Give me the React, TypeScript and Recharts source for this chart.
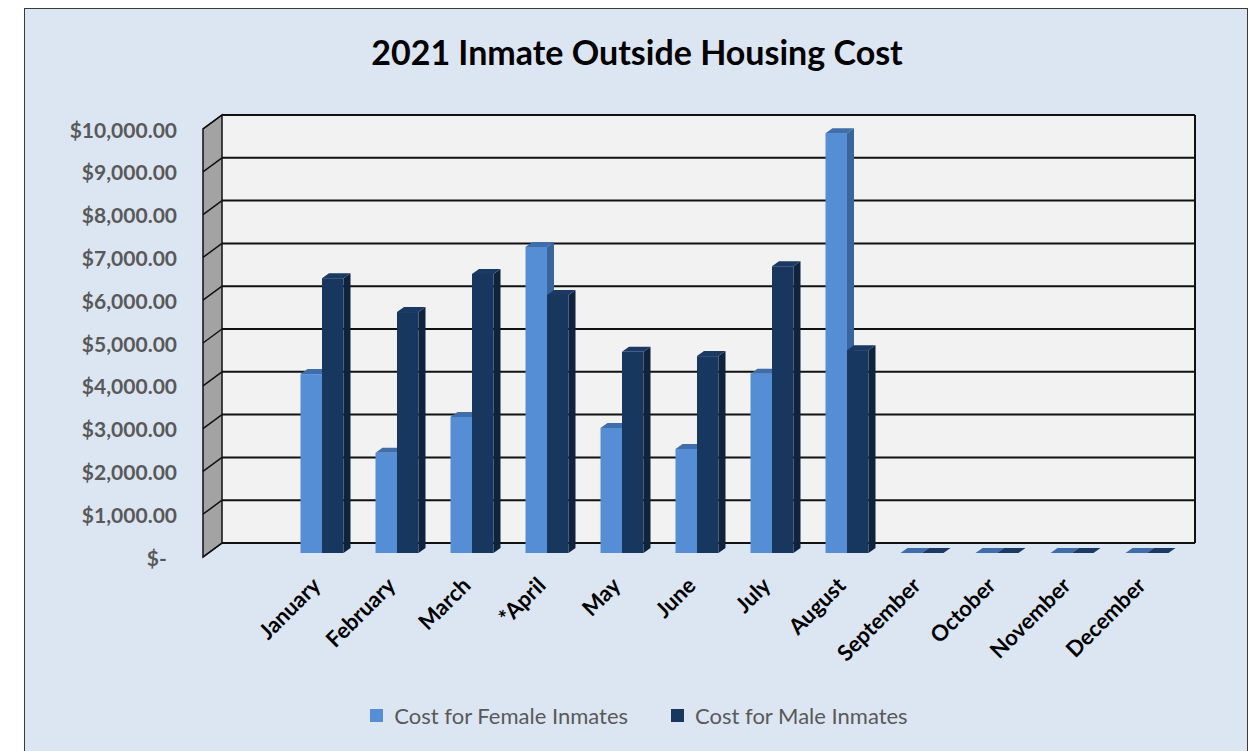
import { BarChart, Bar, XAxis, YAxis, CartesianGrid, Legend } from 'recharts'

const MONTHS = [
  'January',
  'February',
  'March',
  '*April',
  'May',
  'June',
  'July',
  'August',
  'September',
  'October',
  'November',
  'December',
]
const FEMALE_COST = [4180, 2340, 3180, 7150, 2920, 2430, 4190, 9810, 0, 0, 0, 0]
const MALE_COST = [6420, 5630, 6520, 6030, 4700, 4600, 6700, 4740, 0, 0, 0, 0]
const Y_TICKS = [0, 1000, 2000, 3000, 4000, 5000, 6000, 7000, 8000, 9000, 10000]
const SERIES_NAMES = ['Cost for Female Inmates', 'Cost for Male Inmates']

const data = MONTHS.map((month, i) => ({
  month,
  female: FEMALE_COST[i],
  male: MALE_COST[i],
}))

const FONT = 'Lato, "Open Sans", sans-serif'

// 3D offsets (front face sits a bit in front of the back wall)
const WALL_DX = 19
const WALL_DY = 14
const BAR_SHIFT = 10
const BAR_DX = 7
const BAR_DY = 5

const formatMoney = (v: number) =>
  v === 0
    ? '$-\u00a0\u00a0'
    : '$' + v.toLocaleString('en-US', { minimumFractionDigits: 2, maximumFractionDigits: 2 })

function make3DBar(front: string, top: string, side: string) {
  return (props: any) => {
    const { x, y, width, height } = props
    const h = Math.max(0, height || 0)
    const fy = y + BAR_SHIFT
    return (
      <g>
        <polygon
          points={`${x + width},${fy} ${x + width + BAR_DX},${fy - BAR_DY} ${x + width + BAR_DX},${fy - BAR_DY + h} ${x + width},${fy + h}`}
          fill={side}
        />
        <rect x={x} y={fy} width={width} height={h} fill={front} />
        <polygon
          points={`${x},${fy} ${x + BAR_DX},${fy - BAR_DY} ${x + width + BAR_DX},${fy - BAR_DY} ${x + width},${fy}`}
          fill={top}
        />
      </g>
    )
  }
}

const renderGridLine = (props: any) => {
  const { x1, y1, x2, index, x, y, width, height } = props
  return (
    <g key={`grid-${index}`}>
      {index === 0 && (
        <g>
          <polygon
            points={`${x},${y} ${x},${y + height} ${x - WALL_DX},${y + height + WALL_DY} ${x - WALL_DX},${y + WALL_DY}`}
            fill="#a3a3a3"
            stroke="#111"
            strokeWidth={1.5}
          />
          <line x1={x + width} y1={y} x2={x + width} y2={y + height} stroke="#111" strokeWidth={2} />
        </g>
      )}
      <line x1={x1 - WALL_DX} y1={y1 + WALL_DY} x2={x1} y2={y1} stroke="#111" strokeWidth={1.5} />
      <line x1={x1} y1={y1} x2={x2} y2={y1} stroke="#111" strokeWidth={2} />
    </g>
  )
}

const YTick = ({ x, y, payload }: any) => (
  <text
    x={x}
    y={y + WALL_DY}
    textAnchor="end"
    dominantBaseline="central"
    fill="#595959"
    fontFamily={FONT}
    fontWeight={700}
    fontSize={21}
  >
    {formatMoney(payload.value)}
  </text>
)

const XTick = ({ x, y, payload }: any) => (
  <text
    transform={`translate(${x},${y + 44}) rotate(-45)`}
    textAnchor="end"
    fill="#000"
    fontFamily={FONT}
    fontWeight={700}
    fontSize={22}
  >
    {payload.value}
  </text>
)

const renderLegend = ({ payload }: any) => (
  <div
    style={{
      display: 'flex',
      justifyContent: 'center',
      alignItems: 'center',
      gap: 43,
      paddingLeft: 22,
      fontFamily: FONT,
      fontSize: 22,
      color: '#595959',
      height: 30,
    }}
  >
    {(payload || []).map((p: any) => (
      <span key={p.value} style={{ display: 'flex', alignItems: 'center' }}>
        <span
          style={{
            display: 'inline-block',
            width: 13,
            height: 13,
            background: p.color,
            marginRight: 11,
          }}
        />
        {p.value}
      </span>
    ))}
  </div>
)

export default function App() {
  return (
    <div
      style={{
        position: 'absolute',
        left: 0,
        top: 0,
        width: 1256,
        height: 751,
        overflow: 'hidden',
      }}
    >
      <div
        style={{
          position: 'absolute',
          left: 24,
          top: 8,
          width: 1222,
          height: 770,
          background: '#dce6f2',
          border: '1.5px solid #3a3a3a',
        }}
      />
      <div
        style={{
          position: 'absolute',
          left: 0,
          top: 31,
          width: 1274,
          textAlign: 'center',
          fontFamily: FONT,
          fontWeight: 700,
          fontSize: 34,
          lineHeight: '42px',
          color: '#000',
        }}
      >
        2021 Inmate Outside Housing Cost
      </div>
      <div style={{ position: 'absolute', left: 0, top: 0 }}>
        <BarChart
          width={1256}
          height={751}
          data={data}
          margin={{ top: 115, right: 61, left: 102, bottom: 148 }}
          barGap={0}
          barSize={21.5}
        >
          <CartesianGrid vertical={false} horizontal={renderGridLine} fill="#f2f2f2" />
          <XAxis
            dataKey="month"
            height={30}
            interval={0}
            axisLine={false}
            tickLine={false}
            tickSize={0}
            tickMargin={0}
            padding={{ left: 62.5, right: 10.5 }}
            tick={<XTick />}
          />
          <YAxis
            width={120}
            domain={[0, 10000]}
            ticks={Y_TICKS}
            axisLine={false}
            tickLine={false}
            tickSize={0}
            tickMargin={45}
            tick={<YTick />}
          />
          <Legend
            content={renderLegend}
            wrapperStyle={{ top: 700, left: 0, width: 1256, height: 30, bottom: 'auto' }}
          />
          <Bar
            dataKey="female"
            name={SERIES_NAMES[0]}
            fill="#558ed5"
            isAnimationActive={false}
            shape={make3DBar('#558ed5', '#3f6eaa', '#3a659c')}
          />
          <Bar
            dataKey="male"
            name={SERIES_NAMES[1]}
            fill="#17375e"
            isAnimationActive={false}
            shape={make3DBar('#17375e', '#1a3a64', '#0f233c')}
          />
        </BarChart>
      </div>
    </div>
  )
}
